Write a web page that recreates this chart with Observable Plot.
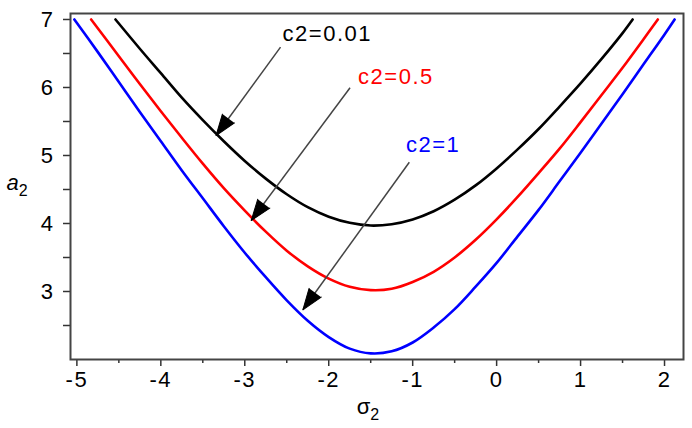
<!DOCTYPE html>
<html><head><meta charset="utf-8">
<script src="https://cdn.jsdelivr.net/npm/d3@7"></script>
<script src="https://cdn.jsdelivr.net/npm/@observablehq/plot@0.6"></script>
<style>body{margin:0;background:#fff;} #chart svg{display:block;}</style>
</head><body><div id="chart"></div>
<script>
// c2 = 0.01 (black)
const blackSigma = [-4.54,-4.25,-4.0,-3.75,-3.5,-3.25,-3.0,-2.75,-2.5,-2.25,-2.0,-1.75,-1.5,-1.25,-1.0,-0.75,-0.5,-0.25,0,0.25,0.5,0.75,1.0,1.25,1.5,1.62];
const blackA     = [7.00,6.57,6.21,5.85,5.52,5.21,4.92,4.66,4.43,4.24,4.10,4.01,3.97,3.99,4.06,4.18,4.35,4.56,4.81,5.09,5.39,5.72,6.06,6.42,6.80,7.00];
// c2 = 0.5 (red)
const redSigma = [-4.83,-4.5,-4.25,-4.0,-3.75,-3.5,-3.25,-3.0,-2.75,-2.5,-2.25,-2.0,-1.75,-1.5,-1.25,-1.0,-0.75,-0.5,-0.25,0,0.25,0.5,0.75,1.0,1.25,1.5,1.75,1.92];
const redA     = [7.00,6.46,6.05,5.65,5.26,4.88,4.52,4.19,3.88,3.60,3.37,3.19,3.07,3.02,3.04,3.14,3.29,3.50,3.76,4.06,4.39,4.74,5.10,5.49,5.89,6.29,6.71,7.00];
// c2 = 1 (blue)
const blueSigma = [-5.03,-4.75,-4.5,-4.25,-4.0,-3.75,-3.5,-3.25,-3.0,-2.75,-2.5,-2.25,-2.0,-1.75,-1.5,-1.25,-1.0,-0.75,-0.5,-0.25,0,0.25,0.5,0.75,1.0,1.25,1.5,1.75,2.0,2.12];
const blueA     = [7.00,6.52,6.08,5.64,5.21,4.78,4.37,3.96,3.57,3.21,2.87,2.57,2.33,2.16,2.09,2.12,2.25,2.47,2.74,3.07,3.42,3.81,4.20,4.62,5.04,5.47,5.90,6.34,6.78,7.00];

const seriesNames  = ["c2=0.01", "c2=0.5", "c2=1"];
const seriesColors = ["#000000", "#ff0000", "#0000ff"];

const xTicks = [-5, -4, -3, -2, -1, 0, 1, 2];
const xMinor = [-4.5, -3.5, -2.5, -1.5, -0.5, 0.5, 1.5];
const yTicks = [3, 4, 5, 6, 7];
const yMinor = [2.5, 3.5, 4.5, 5.5, 6.5];

// annotations (data coordinates)
const labelSigma = [-2.55, -1.65, -1.08];
const labelA     = [6.79, 6.15, 5.15];
const arrowFromSigma = [-2.574, -1.746, -1.040];
const arrowFromA     = [6.593, 5.996, 4.901];
const arrowToSigma   = [-3.342, -2.923, -2.308];
const arrowToA       = [5.294, 4.044, 2.731];

const curves = [[blackSigma, blackA], [redSigma, redA], [blueSigma, blueA]];
const lineRows = curves.flatMap(([s, a], i) => s.map((v, j) => ({sigma: v, a: a[j], series: seriesNames[i]})));
const labelRows = seriesNames.map((n, i) => ({name: n, sigma: labelSigma[i], a: labelA[i], color: seriesColors[i]}));
const arrowRows = seriesNames.map((n, i) => ({x1: arrowFromSigma[i], y1: arrowFromA[i], x2: arrowToSigma[i], y2: arrowToA[i]}));

const FONT = "Liberation Sans";
const base = {
  width: 692, height: 428,
  marginLeft: 70, marginRight: 9, marginTop: 13, marginBottom: 69,
  x: {domain: [-5.076, 2.226]},
  y: {domain: [2.0, 7.088]},
  color: {domain: seriesNames, range: seriesColors},
  style: {fontFamily: FONT, fontSize: "22px", background: "#fff", color: "#000"}
};
const fmt = d => String(d);

const probe = Plot.plot({...base, marks: [Plot.frame()]});
const sx = probe.scale("x"), sy = probe.scale("y");
arrowRows.forEach(r => {
  const dx = sx.apply(r.x2) - sx.apply(r.x1);
  const dy = sy.apply(r.y2) - sy.apply(r.y1);
  r.angle = Math.atan2(dx, -dy) * 180 / Math.PI;
});

const chart = Plot.plot({
  ...base,
  marks: [
    Plot.axisX(xTicks, {anchor: "bottom", tickSize: 7, tickPadding: 5, tickFormat: fmt, fontSize: 22, stroke: "#333", strokeWidth: 1.5}),
    Plot.axisX(xMinor, {anchor: "bottom", tickSize: 4, tickFormat: () => "", stroke: "#333", strokeWidth: 1.5}),
    Plot.axisY(yTicks, {anchor: "left", tickSize: 7, tickPadding: 9, tickFormat: fmt, fontSize: 22, stroke: "#333", strokeWidth: 1.5}),
    Plot.axisY(yMinor, {anchor: "left", tickSize: 7, tickFormat: () => "", stroke: "#333", strokeWidth: 1.5}),
    Plot.line(lineRows, {x: "sigma", y: "a", z: "series", stroke: "series", strokeWidth: 2.6, curve: "catmull-rom"}),
    Plot.link(arrowRows, {x1: "x1", y1: "y1", x2: "x2", y2: "y2", stroke: "#444", strokeWidth: 1.5}),
    Plot.vector(arrowRows, {x: "x2", y: "y2", rotate: "angle", length: 21, r: 7.5, anchor: "end", shape: "spike", fill: "#000", stroke: "#000", strokeWidth: 1}),
    Plot.text(labelRows, {x: "sigma", y: "a", text: "name", fill: "color", textAnchor: "start", fontSize: 22, fontFamily: FONT}),
    Plot.frame({stroke: "#444", strokeWidth: 2})
  ]
});

const svg = d3.select(chart);
svg.selectAll("text").attr("letter-spacing", "1.5px");
const xl = svg.append("text").attr("x", 368).attr("y", 414).attr("font-family", FONT).attr("font-size", 22).attr("fill", "#000");
xl.append("tspan").text("σ");
xl.append("tspan").attr("dy", 6).attr("font-size", 16).text("2");
const yl = svg.append("text").attr("x", 17).attr("y", 190).attr("font-family", FONT).attr("font-size", 22).attr("fill", "#000");
yl.append("tspan").attr("font-style", "italic").text("a");
yl.append("tspan").attr("dy", 6).attr("font-size", 16).text("2");

document.getElementById("chart").append(chart);
</script>
</body></html>
